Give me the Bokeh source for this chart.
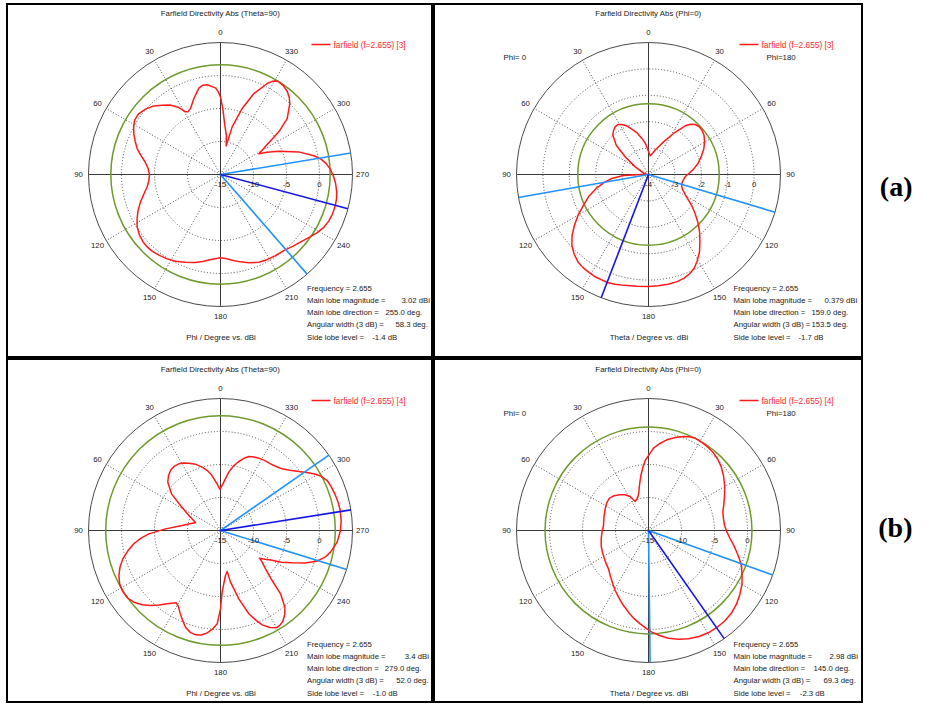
import numpy as np
from bokeh.plotting import figure
from bokeh.layouts import row, column
from bokeh.models import Range1d, Spacer
from bokeh.core.properties import value
from bokeh.embed import file_html
from bokeh.resources import INLINE

# ---------------- data (angles: degrees counter-clockwise from top of the polar plot) ----------------
frequency = "2.655"

# (a) Theta=90 cut, farfield [3]
a_phi_angle = [0.0, 1.8, 3.3, 8.4, 11.2, 14.1, 19.3, 24.4, 27.5, 29.2, 31.9, 36.0, 40.1, 44.2, 48.9, 53.5, 57.5,
               61.0, 64.7, 68.7, 72.7, 76.5, 80.4, 85.3, 90.5, 95.0, 99.5, 104.4, 108.9, 113.4, 117.8, 122.0,
               126.8, 130.9, 134.6, 138.5, 142.6, 147.7, 152.6, 158.0, 164.1, 169.1, 174.4, 180.0, 183.5,
               187.8, 192.9, 197.8, 203.6, 208.6, 214.1, 220.0, 225.4, 230.5, 234.9, 239.0, 243.1, 246.7,
               250.7, 255.0, 258.5, 261.5, 265.5, 269.7, 272.8, 275.9, 278.5, 281.1, 286.1, 291.8, 295.5,
               298.3, 300.5, 302.7, 306.2, 310.0, 315.7, 318.5, 321.3, 325.0, 328.6, 330.8, 332.8, 337.6,
               341.8, 346.2, 348.8, 351.5, 355.0, 358.0, 360.0]
a_phi_dbi = [-3.23, -2.37, -1.85, -1.25, -1.2, -1.5, -2.8, -4.0, -4.3, -4.13, -3.05, -2.0, -1.27, -0.5, 0.07, 0.45, 0.4,
             0.05, -0.47, -1.12, -1.77, -2.6, -3.4, -4.0, -4.24, -4.1, -3.74, -3.0, -2.19, -1.4, -0.72, -0.1,
             0.33, 0.55, 0.61, 0.55, 0.38, 0.12, -0.2, -0.65, -1.14, -1.63, -2.11, -2.37, -2.25,
             -1.9, -1.42, -0.94, -0.5, -0.3, -0.15, 0.0, 0.45, 0.95, 1.5, 2.1, 2.6, 2.85,
             3.0, 3.02, 2.95, 2.8, 2.5, 2.05, 1.65, 1.1, 0.45, -0.45, -2.65, -5.48, -7.2,
             -8.4, -7.6, -6.6, -4.05, -1.81, 0.04, 0.7, 1.17, 1.5, 1.6, 1.2, 0.5, -1.73,
             -4.47, -7.57, -10.57, -9.0, -7.5, -5.0, -3.23]

# (a) Phi=0 cut, farfield [3]  (left half: Phi=0, right half: Phi=180)
a_theta_angle = [2.2, 6.0, 10.5, 15.0, 20.2, 24.0, 28.1, 31.5, 35.0, 38.5, 42.2, 47.8, 52.9, 60.1, 68.2, 78.7,
                 86.0, 91.6, 92.3, 96.2, 100.0, 104.5, 110.0, 115.3, 120.0, 124.4, 128.5, 132.7, 137.0, 141.0,
                 144.7, 148.5, 153.0, 159.0, 163.0, 167.6, 174.0, 180.0, 185.0, 190.1, 195.0, 199.0, 202.5,
                 206.0, 209.5, 213.4, 217.5, 221.7, 226.0, 230.1, 233.8, 237.3, 241.5, 245.5, 250.0, 254.9,
                 260.5, 266.4, 271.5, 276.8, 282.5, 288.5, 294.5, 300.3, 305.0, 309.7, 313.5, 317.0, 320.0,
                 323.0, 328.6, 335.3, 340.0, 344.7, 349.0, 353.1, 354.9, 362.2]
a_theta_dbi = [-3.02, -2.8, -2.61, -2.38, -2.17, -1.98, -1.85, -1.78, -1.80, -1.87, -1.99, -2.35, -2.89, -3.42, -3.73, -3.87,
               -3.93, -3.56, -3.05, -2.60, -2.3, -1.98, -1.6, -1.28, -0.92, -0.60, -0.3, -0.05, 0.13, 0.25,
               0.31, 0.34, 0.37, 0.379, 0.35, 0.30, 0.26, 0.24, 0.23, 0.22, 0.2, 0.15, 0.07,
               -0.05, -0.25, -0.49, -0.8, -1.09, -1.4, -1.70, -1.95, -2.20, -2.42, -2.57, -2.66, -2.69,
               -2.67, -2.61, -2.47, -2.28, -2.08, -1.90, -1.7, -1.54, -1.43, -1.37, -1.36, -1.41, -1.52,
               -1.69, -2.18, -2.64, -2.88, -3.04, -3.18, -3.26, -3.29, -3.02]

# (b) Theta=90 cut, farfield [4]
b_phi_angle = [0.9, 4.1, 9.2, 12.5, 16.1, 20.5, 25.2, 28.5, 32.0, 36.0, 39.8, 43.5, 47.5, 53.2, 58.0, 62.0, 66.0,
               70.0, 72.9, 76.5, 82.6, 88.3, 92.7, 95.5, 98.7, 102.5, 106.2, 110.0, 113.9, 118.0, 122.1, 126.0,
               129.6, 133.5, 137.0, 140.5, 144.0, 148.5, 151.0, 153.5, 157.0, 160.1, 163.5, 166.5, 169.5,
               172.6, 175.5, 178.0, 180.0, 181.5, 186.3, 189.2, 191.0, 195.0, 198.8, 201.5, 203.8, 207.0,
               209.8, 212.0, 214.4, 217.5, 220.0, 223.5, 225.9, 229.5, 232.8, 234.6, 237.0, 240.1, 242.5,
               245.7, 249.0, 252.3, 255.5, 258.9, 264.3, 270.0, 274.7, 279.5, 283.5, 287.8, 291.5, 295.1,
               298.5, 301.3, 304.0, 307.0, 311.0, 315.0, 319.0, 323.1, 327.5, 332.1, 335.5, 339.0, 342.0,
               345.1, 348.5, 351.9, 357.1, 360.9]
b_phi_dbi = [-8.79, -7.91, -6.45, -5.7, -5.01, -4.3, -3.73, -3.35, -3.09, -3.0, -3.17, -3.55, -4.17, -5.73, -7.85, -9.1, -10.03,
             -10.7, -11.04, -10.4, -9.14, -6.66, -4.13, -2.9, -1.71, -0.6, 0.41, 1.2, 1.84, 2.3, 2.45, 2.4,
             2.04, 1.35, 0.55, -0.35, -1.26, -2.15, -1.85, -1.18, -0.25, 0.58, 1.1, 1.26, 1.1,
             0.64, -0.05, -0.85, -3.13, -5.66, -8.14, -8.71, -7.03, -4.28, -1.67, -0.4, 0.63, 1.5,
             1.99, 1.95, 1.71, 1.0, 0.17, -1.78, -4.11, -6.0, -7.07, -7.76, -7.0, -5.97, -4.6,
             -3.09, -1.3, 0.3, 1.3, 1.99, 2.76, 3.18, 3.34, 3.4, 3.33, 3.19, 3.05, 2.85,
             2.3, 1.54, 0.7, -0.14, -1.1, -1.79, -2.15, -2.37, -2.45, -2.6, -2.75, -3.0, -3.5,
             -4.18, -5.0, -6.07, -7.92, -8.79]

# (b) Phi=0 cut, farfield [4]
b_theta_angle = [2.7, 5.3, 7.9, 11.0, 14.2, 17.0, 20.2, 24.7, 28.3, 33.5, 39.1, 44.5, 50.3, 56.5, 63.4, 73.0,
                 83.7, 92.0, 100.0, 108.5, 117.1, 125.5, 133.8, 140.0, 146.2, 151.0, 155.8, 161.0, 166.2, 170.5,
                 174.9, 178.5, 181.9, 186.0, 190.5, 195.5, 200.3, 205.5, 210.3, 215.0, 220.1, 225.0, 229.9,
                 235.0, 240.0, 243.2, 246.3, 249.4, 252.8, 256.2, 260.2, 264.2, 268.8, 273.8, 278.8, 283.9,
                 289.3, 294.7, 300.5, 306.3, 311.2, 316.1, 320.3, 324.5, 328.8, 333.0, 336.3, 339.6, 344.0,
                 348.6, 352.5, 356.5, 362.7]
b_theta_dbi = [-4.38, -5.5, -6.59, -7.9, -9.01, -9.6, -9.89, -10.16, -9.15, -8.5, -8.04, -7.6, -7.32, -7.4, -7.66, -7.95,
               -8.14, -7.95, -7.72, -7.45, -7.23, -6.95, -6.6, -6.0, -5.28, -4.6, -3.92, -3.1, -2.26, -1.5,
               -0.8, -0.2, 0.41, 1.0, 1.59, 2.1, 2.49, 2.8, 2.95, 2.98, 2.93, 2.75, 2.4,
               1.9, 1.35, 0.9, 0.44, 0.05, -0.6, -1.22, -1.9, -2.56, -3.1, -3.46, -3.5, -3.4,
               -2.9, -2.32, -1.6, -0.91, -0.35, 0.08, 0.35, 0.5, 0.62, 0.68, 0.5, 0.2, -0.35,
               -0.98, -1.7, -2.5, -4.38]

# summary values shown in each panel
main_lobe_mag = ["3.02", "0.379", "3.4", "2.98"]
main_lobe_dir = [255.0, 159.0, 279.0, 145.0]
main_lobe_side = [None, 0, None, 180]          # which half (Phi) of a theta cut holds the main lobe
angular_width = [58.3, 153.5, 52.0, 69.3]
side_lobe_level = [-1.4, -1.7, -1.0, -2.3]
beam_edges = [[221.0, 279.4], [100.0, 253.4], [252.8, 304.8], [180.7, 250.3]]

phi_ticks = [-15, -10, -5, 0]
theta_a_ticks = [-4, -3, -2, -1, 0]
theta_b_ticks = [-15, -10, -5, 0]
spoke_angles = [30, 60, 120, 150, 210, 240, 300, 330]
phi_labels = ["0", "30", "60", "90", "120", "150", "180", "210", "240", "270", "300", "330"]
theta_labels = ["0", "30", "60", "90", "120", "150", "180", "150", "120", "90", "60", "30"]

FONT = value("Liberation Sans")
TXT = "#1a1a1a"


def make_panel(ox, oy, W, H, cx, cy, vmin, vmax, ticks, angle, dbi, idx, kind, legend_tag):
    R = 132.0
    k = R / (vmax - vmin)
    p = figure(width=W, height=H, x_range=Range1d((ox - cx) / k, (ox + W - cx) / k),
               y_range=Range1d((cy - oy - H) / k, (cy - oy) / k),
               x_axis_type=None, y_axis_type=None, toolbar_location=None,
               output_backend="svg", min_border=0)
    p.outline_line_color = "black"
    p.outline_line_width = 3
    p.background_fill_color = "white"
    p.border_fill_color = "white"

    def pt(X, Y):
        return (X - cx) / k, (cy - Y) / k

    span = vmax - vmin

    def xy(a, v):
        a = np.radians(np.asarray(a, dtype=float))
        r = np.asarray(v, dtype=float) - vmin
        return -r * np.sin(a), r * np.cos(a)

    # dotted rings at tick values
    ring_r = [t - vmin for t in ticks if t > vmin]
    p.circle(x=[0] * len(ring_r), y=[0] * len(ring_r), radius=ring_r, fill_color=None,
             line_color="#4d4d4d", line_dash="1 2", line_width=1)
    # dotted spokes
    sa = np.radians(spoke_angles)
    p.segment(x0=0, y0=0, x1=list(-span * np.sin(sa)), y1=list(span * np.cos(sa)),
              line_color="#4d4d4d", line_dash="1 2", line_width=1)
    # solid axes
    p.segment(x0=[0, -span], y0=[-span, 0], x1=[0, span], y1=[span, 0], line_color="#3a3a3a", line_width=1)
    # outer circle
    p.circle(x=0, y=0, radius=span, fill_color=None, line_color="#4a4a4a", line_width=1)
    # side-lobe level ring
    green = float(main_lobe_mag[idx]) + side_lobe_level[idx]
    p.circle(x=0, y=0, radius=green - vmin, fill_color=None, line_color="#6f9a2c", line_width=1.5)
    # pattern
    x, y = xy(angle, dbi)
    p.line(x=list(x), y=list(y), line_color="#ff1a1a", line_width=1.5, line_join="round")
    # beam edges and main lobe lines
    ea = np.radians(beam_edges[idx])
    p.segment(x0=0, y0=0, x1=list(-span * np.sin(ea)), y1=list(span * np.cos(ea)),
              line_color="#2092fa", line_width=1.6)
    md = main_lobe_dir[idx]
    if main_lobe_side[idx] == 180:
        md = 360.0 - md
    ma = np.radians(md)
    p.segment(x0=0, y0=0, x1=-span * np.sin(ma), y1=span * np.cos(ma), line_color="#1414e6", line_width=1.6)

    # angle labels
    labels = phi_labels if kind == "phi" else theta_labels
    la = np.radians(np.arange(0, 360, 30))
    lr = (R + 10) / k
    p.text(x=list(-lr * np.sin(la)), y=list(lr * np.cos(la)), text=labels, text_font=FONT,
           text_font_size="7.8px", text_align="center", text_baseline="middle", text_color=TXT)
    # radial tick labels
    p.text(x=[t - vmin for t in ticks], y=[-10 / k] * len(ticks), text=[str(t) for t in ticks],
           text_font=FONT, text_font_size="7.8px", text_align="center", text_baseline="middle",
           text_color=TXT)

    # title, caption
    title = "Farfield Directivity Abs (Theta=90)" if kind == "phi" else "Farfield Directivity Abs (Phi=0)"
    caption = "Phi / Degree vs. dBi" if kind == "phi" else "Theta / Degree vs. dBi"
    tx, ty = pt(cx, cy - 161.3)
    p.text(x=[tx], y=[ty], text=[title], text_font=FONT, text_font_size="7.9px", text_align="center",
           text_baseline="middle", text_color=TXT)
    cx2, cy2 = pt(cx + 0.5, cy + 163.3)
    p.text(x=[cx2], y=[cy2], text=[caption], text_font=FONT, text_font_size="7.9px", text_align="center",
           text_baseline="middle", text_color=TXT)

    # legend
    lx0, ly = pt(cx + 91, cy - 130)
    lx1, _ = pt(cx + 110, cy - 130)
    p.segment(x0=lx0, y0=ly, x1=lx1, y1=ly, line_color="#ff1a1a", line_width=1.5)
    ltx, _ = pt(cx + 113, cy - 130)
    p.text(x=[ltx], y=[ly], text=["farfield (f=%s) [%s]" % (frequency, legend_tag)], text_font=FONT,
           text_font_size="8.3px", text_align="left", text_baseline="middle", text_color="#ff2a2a")
    if kind == "theta":
        ax, ay = pt(cx - 145, cy - 117.5)
        bx, _ = pt(cx + 118, cy - 117.5)
        p.text(x=[ax, bx], y=[ay, ay], text=["Phi=  0", "Phi=180"], text_font=FONT, text_font_size="7.9px",
               text_align="left", text_baseline="middle", text_color=TXT)

    # info block
    left = cx + (86.5 if kind == "phi" else 85)
    ys = [cy + 114.3, cy + 126, cy + 138.3, cy + 150.3, cy + 162.7]
    names = ["Frequency = " + frequency, "Main lobe magnitude =", "Main lobe direction =",
             "Angular width (3 dB) =", "Side lobe level ="]
    vals = [main_lobe_mag[idx] + " dBi", "%.1f deg." % main_lobe_dir[idx], "%.1f deg." % angular_width[idx],
            "%.1f dB" % side_lobe_level[idx]]
    val_dx = [[181, 165, 175, 151.7], [176, 163, 163, 150], [184.3, 164.3, 175.7, 152.3], [181, 165, 175, 151.3]][idx]
    nx = [pt(left, yy)[0] for yy in ys]
    ny = [pt(left, yy)[1] for yy in ys]
    p.text(x=nx, y=ny, text=names, text_font=FONT, text_font_size="7.75px", text_align="left",
           text_baseline="middle", text_color=TXT)
    vx = [pt(cx + d, 0)[0] for d in val_dx]
    p.text(x=vx, y=ny[1:], text=vals, text_font=FONT, text_font_size="7.75px", text_align="left",
           text_baseline="middle", text_color=TXT)
    return p


# page layout (pixels): panels start at x=6, y=3
p1 = make_panel(6, 3, 427, 355, 220, 174, -15, 5, phi_ticks, a_phi_angle, a_phi_dbi, 0, "phi", "3")
p2 = make_panel(433, 3, 430, 355, 648, 174, -4, 1, theta_a_ticks, a_theta_angle, a_theta_dbi, 1, "theta", "3")
p3 = make_panel(6, 358, 427, 345, 220, 530, -15, 5, phi_ticks, b_phi_angle, b_phi_dbi, 2, "phi", "4")
p4 = make_panel(433, 358, 430, 345, 648, 530, -15, 5, theta_b_ticks, b_theta_angle, b_theta_dbi, 3, "theta", "4")

plab = figure(width=51, height=700, x_range=Range1d(863, 914), y_range=Range1d(703, 3),
              x_axis_type=None, y_axis_type=None, toolbar_location=None, output_backend="svg", min_border=0)
plab.outline_line_color = None
plab.text(x=[912, 912], y=[186, 527], text=["(a)", "(b)"], text_font=value("Liberation Serif"),
          text_font_size="28px", text_font_style="bold", text_align="right", text_baseline="middle",
          text_color="black")

layout = column(Spacer(width=914, height=3),
                row(Spacer(width=6, height=700), column(row(p1, p2), row(p3, p4)), plab))
open("out.html", "w").write(file_html(layout, INLINE))
